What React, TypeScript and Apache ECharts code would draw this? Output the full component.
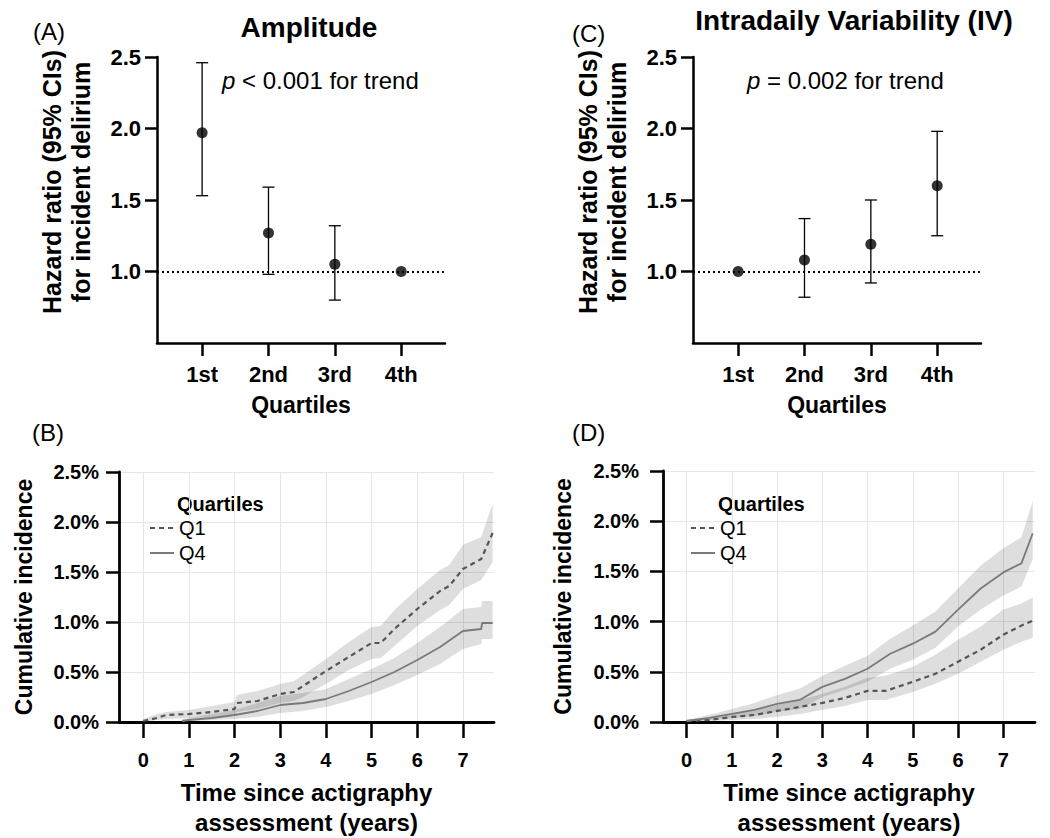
import React, { useEffect, useRef } from 'react';
import * as echarts from 'echarts';

const FONT = '"Liberation Sans", Arial, Helvetica, sans-serif';

// ---------- Panels A & C: hazard ratios by quartile ----------
const quartileLabels = ['1st', '2nd', '3rd', '4th'];
const quartilePos = [1, 2, 3, 4];
const hrTicks = [1.0, 1.5, 2.0, 2.5];

const ampHR = [1.97, 1.27, 1.05, 1.0];
const ampLow = [1.53, 0.98, 0.8, null];
const ampHigh = [2.46, 1.59, 1.32, null];

const ivHR = [1.0, 1.08, 1.19, 1.6];
const ivLow = [null, 0.82, 0.92, 1.25];
const ivHigh = [null, 1.37, 1.5, 1.98];

// ---------- Panels B & D: cumulative incidence (%) ----------
const yearTicks = [0, 1, 2, 3, 4, 5, 6, 7];
const pctTicksMax = 2.5;

// Panel B (Amplitude)
const bQ1Years = [0, 0.3, 0.5, 1.0, 1.5, 2.0, 2.05, 2.5, 3.0, 3.3, 3.5, 4.0, 4.5, 5.0, 5.2, 5.5, 6.0, 6.5, 6.7, 7.0, 7.4, 7.65];
const bQ1Est = [0.01, 0.04, 0.07, 0.08, 0.1, 0.13, 0.19, 0.21, 0.28, 0.3, 0.36, 0.51, 0.65, 0.79, 0.79, 0.93, 1.13, 1.31, 1.36, 1.53, 1.63, 1.89];
const bQ1Lo = [0, 0.02, 0.03, 0.04, 0.05, 0.07, 0.1, 0.13, 0.19, 0.21, 0.25, 0.38, 0.52, 0.63, 0.64, 0.76, 0.96, 1.12, 1.17, 1.33, 1.42, 1.6];
const bQ1Hi = [0.03, 0.08, 0.1, 0.12, 0.16, 0.2, 0.27, 0.31, 0.38, 0.41, 0.47, 0.63, 0.8, 0.95, 0.96, 1.12, 1.33, 1.52, 1.57, 1.77, 1.85, 2.18];

const bQ4Years = [0.85, 1.0, 1.5, 2.0, 2.5, 3.0, 3.5, 4.0, 4.5, 5.0, 5.5, 6.0, 6.5, 7.0, 7.4, 7.42, 7.65];
const bQ4Est = [0.01, 0.02, 0.04, 0.07, 0.11, 0.17, 0.19, 0.23, 0.31, 0.4, 0.5, 0.62, 0.75, 0.91, 0.93, 0.99, 0.99];
const bQ4Lo = [0, 0.01, 0.02, 0.03, 0.05, 0.09, 0.11, 0.15, 0.21, 0.28, 0.37, 0.47, 0.58, 0.73, 0.78, 0.83, 0.83];
const bQ4Hi = [0.03, 0.04, 0.08, 0.12, 0.19, 0.26, 0.29, 0.33, 0.43, 0.53, 0.64, 0.79, 0.95, 1.13, 1.15, 1.21, 1.21];

// Panel D (IV)
const dQ1Years = [0, 0.5, 1.0, 1.5, 2.0, 2.5, 3.0, 3.5, 4.0, 4.4, 5.0, 5.5, 6.0, 6.5, 7.0, 7.4, 7.65];
const dQ1Est = [0.01, 0.02, 0.05, 0.07, 0.11, 0.15, 0.19, 0.24, 0.31, 0.31, 0.4, 0.48, 0.6, 0.72, 0.87, 0.96, 1.01];
const dQ1Lo = [0, 0.01, 0.02, 0.03, 0.05, 0.08, 0.12, 0.16, 0.22, 0.22, 0.3, 0.38, 0.48, 0.6, 0.72, 0.8, 0.84];
const dQ1Hi = [0.02, 0.04, 0.08, 0.12, 0.17, 0.22, 0.28, 0.35, 0.44, 0.46, 0.55, 0.67, 0.82, 0.95, 1.12, 1.18, 1.24];

const dQ4Years = [0, 0.5, 1.0, 1.5, 2.0, 2.5, 3.0, 3.5, 4.0, 4.5, 5.0, 5.5, 6.0, 6.5, 7.0, 7.4, 7.65];
const dQ4Est = [0.01, 0.04, 0.08, 0.12, 0.18, 0.22, 0.35, 0.43, 0.53, 0.68, 0.78, 0.9, 1.12, 1.33, 1.49, 1.58, 1.88];
const dQ4Lo = [0, 0.02, 0.04, 0.06, 0.1, 0.13, 0.25, 0.32, 0.4, 0.53, 0.62, 0.74, 0.95, 1.12, 1.26, 1.35, 1.62];
const dQ4Hi = [0.02, 0.07, 0.13, 0.19, 0.27, 0.33, 0.46, 0.56, 0.66, 0.83, 0.96, 1.1, 1.33, 1.56, 1.73, 1.84, 2.2];

const zip = (xs: number[], ys: number[]) => xs.map((x, i) => [x, ys[i]]);

const axisLineStyle = { color: '#000', width: 2.5 };

function hrXAxis(gridIndex: number) {
  return {
    type: 'value',
    gridIndex,
    min: 0.32,
    max: 4.66,
    axisLine: { show: true, onZero: false, lineStyle: axisLineStyle },
    axisTick: { show: true, customValues: quartilePos, length: 13, lineStyle: axisLineStyle },
    axisLabel: {
      customValues: quartilePos,
      formatter: (v: number) => quartileLabels[Math.round(v) - 1] || '',
      fontSize: 22, fontWeight: 'bold', color: '#000', margin: 20, fontFamily: FONT,
    },
    splitLine: { show: false },
    name: 'Quartiles', nameLocation: 'middle', nameGap: 50,
    nameTextStyle: { fontSize: 23, fontWeight: 'bold', color: '#000', fontFamily: FONT },
  };
}

function hrYAxis(gridIndex: number) {
  return {
    type: 'value',
    gridIndex,
    min: 0.5,
    max: 2.5,
    axisLine: { show: true, onZero: false, lineStyle: axisLineStyle },
    axisTick: { show: true, customValues: hrTicks, length: 12, lineStyle: axisLineStyle },
    axisLabel: {
      customValues: hrTicks,
      formatter: (v: number) => v.toFixed(1),
      fontSize: 22, fontWeight: 'bold', color: '#000', margin: 16, fontFamily: FONT,
    },
    splitLine: { show: false },
    name: 'Hazard ratio (95% CIs)\nfor incident delirium',
    nameLocation: 'middle', nameGap: 62, nameRotate: 90,
    nameTextStyle: {
      fontSize: 25, fontWeight: 'bold', color: '#000', fontFamily: FONT, lineHeight: 29,
      padding: [0, 0, 0, 36],
    },
  };
}

function timeXAxis(gridIndex: number, min: number, max: number) {
  return {
    type: 'value',
    gridIndex,
    min,
    max,
    axisLine: { show: true, onZero: false, lineStyle: { color: '#000', width: 2.8 } },
    axisTick: { show: true, customValues: yearTicks, length: 16, lineStyle: axisLineStyle },
    axisLabel: {
      customValues: yearTicks,
      formatter: (v: number) => String(v),
      fontSize: 20, fontWeight: 'bold', color: '#000', margin: 28, fontFamily: FONT,
    },
    splitLine: { show: true, lineStyle: { color: '#e6e6e6', width: 1 } },
    name: 'Time since actigraphy\nassessment (years)',
    nameLocation: 'middle', nameGap: 55,
    nameTextStyle: { fontSize: 24, fontWeight: 'bold', color: '#000', fontFamily: FONT, lineHeight: 30 },
  };
}

function pctYAxis(gridIndex: number, labelMargin: number, nameGap: number) {
  return {
    type: 'value',
    gridIndex,
    min: 0,
    max: pctTicksMax,
    interval: 0.5,
    axisLine: { show: true, onZero: false, lineStyle: { color: '#000', width: 2.8 } },
    axisTick: { show: true, length: 13, lineStyle: axisLineStyle },
    axisLabel: {
      formatter: (v: number) => v.toFixed(1) + '%',
      fontSize: 20, fontWeight: 'bold', color: '#000', margin: labelMargin, fontFamily: FONT,
    },
    splitLine: { show: true, lineStyle: { color: '#e6e6e6', width: 1 } },
    name: 'Cumulative incidence',
    nameLocation: 'middle', nameGap, nameRotate: 90,
    nameTextStyle: { fontSize: 23, fontWeight: 'bold', color: '#000', fontFamily: FONT },
  };
}

function errorBarSeries(idx: number, low: (number | null)[], high: (number | null)[]) {
  const data = quartilePos
    .map((p, i) => (low[i] == null ? null : [p, low[i], high[i]]))
    .filter((d) => d !== null);
  return {
    type: 'custom',
    xAxisIndex: idx,
    yAxisIndex: idx,
    silent: true,
    z: 2,
    encode: { x: 0, y: [1, 2] },
    data,
    renderItem: (params: any, api: any) => {
      const x = api.value(0);
      const top = api.coord([x, api.value(2)]);
      const bot = api.coord([x, api.value(1)]);
      const w = 6;
      const style = { stroke: '#000', lineWidth: 1.3, fill: null };
      return {
        type: 'group',
        children: [
          { type: 'line', shape: { x1: top[0], y1: top[1], x2: bot[0], y2: bot[1] }, style },
          { type: 'line', shape: { x1: top[0] - w, y1: top[1], x2: top[0] + w, y2: top[1] }, style },
          { type: 'line', shape: { x1: bot[0] - w, y1: bot[1], x2: bot[0] + w, y2: bot[1] }, style },
        ],
      };
    },
  };
}

function pointSeries(idx: number, hr: number[]) {
  return {
    type: 'scatter',
    xAxisIndex: idx,
    yAxisIndex: idx,
    symbol: 'circle',
    symbolSize: 11,
    itemStyle: { color: '#000' },
    silent: true,
    z: 3,
    data: zip(quartilePos, hr),
    markLine: {
      silent: true,
      symbol: 'none',
      label: { show: false },
      lineStyle: { color: '#000', width: 2, type: [2, 3] },
      data: [{ yAxis: 1 }],
    },
  };
}

function bandSeries(idx: number, xs: number[], lo: number[], hi: number[]) {
  return {
    type: 'custom',
    xAxisIndex: idx,
    yAxisIndex: idx,
    silent: true,
    z: 1,
    clip: true,
    data: [[xs[0], lo[0]]],
    renderItem: (params: any, api: any) => {
      const pts: number[][] = [];
      for (let i = 0; i < xs.length; i++) pts.push(api.coord([xs[i], hi[i]]));
      for (let i = xs.length - 1; i >= 0; i--) pts.push(api.coord([xs[i], lo[i]]));
      return { type: 'polygon', shape: { points: pts }, style: { fill: 'rgba(0,0,0,0.13)' } };
    },
  };
}

function curveSeries(idx: number, name: string, xs: number[], ys: number[], dashed: boolean) {
  const color = dashed ? '#555555' : '#7a7a7a';
  return {
    type: 'line',
    name,
    xAxisIndex: idx,
    yAxisIndex: idx,
    data: zip(xs, ys),
    symbol: 'none',
    showSymbol: false,
    silent: true,
    z: 3,
    itemStyle: { color },
    lineStyle: { color, width: dashed ? 2.2 : 1.8, type: dashed ? [5, 4] : 'solid' },
  };
}

function legendAt(left: number) {
  return {
    data: ['Q1', 'Q4'],
    orient: 'vertical',
    left,
    top: 518,
    padding: 0,
    itemWidth: 24,
    itemHeight: 12,
    itemGap: 5,
    selectedMode: false,
    itemStyle: { opacity: 0, borderWidth: 0 },
    textStyle: { fontSize: 20, color: '#000', fontFamily: FONT },
  };
}

const textEl = (x: number, y: number, text: string, size: number, bold = false, align = 'left') => ({
  type: 'text',
  x,
  y,
  silent: true,
  style: {
    text,
    fontSize: size,
    fontWeight: bold ? 'bold' : 'normal',
    fontFamily: FONT,
    fill: '#000',
    align,
    verticalAlign: 'middle',
  },
});

const pText = (x: number, y: number, rest: string) => ({
  type: 'text',
  x,
  y,
  silent: true,
  style: {
    text: '{i|p}' + rest,
    fontSize: 24,
    fontFamily: FONT,
    fill: '#000',
    verticalAlign: 'middle',
    rich: { i: { fontStyle: 'italic', fontSize: 24, fontFamily: FONT, fill: '#000' } },
  },
});

export default function App() {
  const ref = useRef<HTMLDivElement>(null);
  useEffect(() => {
    if (!ref.current) return;
    const chart = echarts.init(ref.current, null, { renderer: 'svg' });
    chart.setOption({
      animation: false,
      backgroundColor: '#fff',
      grid: [
        { left: 157, top: 57, width: 288, height: 286 },
        { left: 693, top: 57, width: 288, height: 286 },
        { left: 119, top: 472, width: 375, height: 251 },
        { left: 663, top: 471, width: 372, height: 252 },
      ],
      xAxis: [hrXAxis(0), hrXAxis(1), timeXAxis(2, -0.53, 7.68), timeXAxis(3, -0.52, 7.7)],
      yAxis: [hrYAxis(0), hrYAxis(1), pctYAxis(2, 20, 84), pctYAxis(3, 24, 89)],
      legend: [legendAt(149), legendAt(690)],
      series: [
        errorBarSeries(0, ampLow, ampHigh),
        pointSeries(0, ampHR),
        errorBarSeries(1, ivLow, ivHigh),
        pointSeries(1, ivHR),
        bandSeries(2, bQ1Years, bQ1Lo, bQ1Hi),
        bandSeries(2, bQ4Years, bQ4Lo, bQ4Hi),
        curveSeries(2, 'Q1', bQ1Years, bQ1Est, true),
        curveSeries(2, 'Q4', bQ4Years, bQ4Est, false),
        bandSeries(3, dQ1Years, dQ1Lo, dQ1Hi),
        bandSeries(3, dQ4Years, dQ4Lo, dQ4Hi),
        curveSeries(3, 'Q1', dQ1Years, dQ1Est, true),
        curveSeries(3, 'Q4', dQ4Years, dQ4Est, false),
      ],
      graphic: [
        textEl(33, 31, '(A)', 24),
        textEl(572, 33, '(C)', 24),
        textEl(32, 432, '(B)', 24),
        textEl(572, 432, '(D)', 24),
        textEl(309, 27, 'Amplitude', 28, true, 'center'),
        textEl(854, 20, 'Intradaily Variability (IV)', 28, true, 'center'),
        pText(222, 80, ' < 0.001 for trend'),
        pText(747, 80, ' = 0.002 for trend'),
        textEl(177, 504, 'Quartiles', 20, true),
        textEl(718, 504, 'Quartiles', 20, true),
      ],
    });
    return () => chart.dispose();
  }, []);
  return (
    <div
      ref={ref}
      style={{ position: 'fixed', left: 0, top: 0, width: 1050, height: 838, background: '#fff' }}
    />
  );
}
